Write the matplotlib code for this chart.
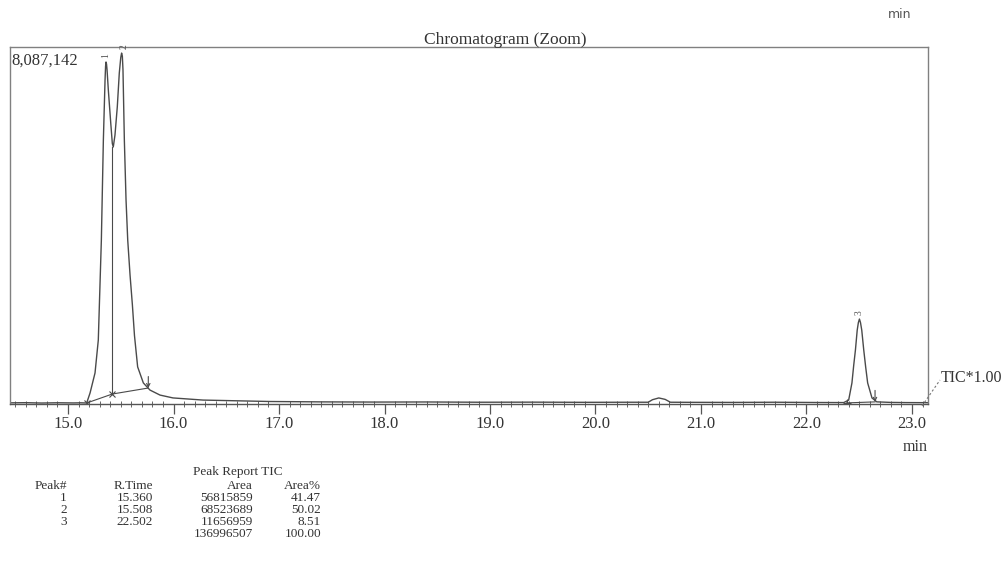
import matplotlib
matplotlib.use("Agg")
import matplotlib.pyplot as plt
from matplotlib.lines import Line2D
from matplotlib.ticker import MultipleLocator, FormatStrFormatter

plt.rcParams["font.family"] = ["Liberation Serif", "DejaVu Serif"]

# TIC trace (retention time in min, intensity in counts)
rt = [14.45, 14.60, 14.75, 14.90, 15.05, 15.12, 15.177, 15.209, 15.256, 15.287,
      15.316, 15.335, 15.351, 15.356, 15.360, 15.365, 15.370, 15.382, 15.405, 15.420,
      15.429, 15.445, 15.467, 15.486, 15.500, 15.508, 15.515, 15.521, 15.534, 15.550,
      15.566, 15.588, 15.610, 15.630, 15.660, 15.714, 15.777, 15.872, 15.995, 16.280,
      16.915, 17.40, 17.90, 18.40, 18.90, 19.40, 19.90, 20.30, 20.50, 20.54,
      20.60, 20.66, 20.71, 20.90, 21.30, 21.70, 22.10, 22.353, 22.400, 22.431,
      22.448, 22.464, 22.481, 22.492, 22.502, 22.512, 22.524, 22.543, 22.561, 22.580,
      22.621, 22.666, 22.80, 22.95, 23.15]
intensity = [26000, 30000, 22000, 28000, 24000, 27000, 22600, 250700, 703600, 1447600,
             3712000, 5976400, 7343100, 7650000, 7747500, 7700000, 7569600, 7116700, 6364600, 5900000,
             5822700, 6089600, 6728500, 7496800, 7850000, 7949700, 7880000, 7569600, 5976400, 4617800,
             3712000, 2919500, 2250000, 1550000, 841100, 477100, 315400, 202200, 137500, 89000,
             56600, 48000, 44000, 46000, 40000, 42000, 38000, 40000, 40000, 97000,
             137000, 105000, 40000, 38000, 36000, 40000, 34000, 32300, 89000, 477100,
             881500, 1221200, 1674000, 1845000, 1924700, 1845000, 1674000, 1221200, 841100, 477100,
             137500, 48500, 36000, 32000, 30000]

# peak report
peak_no = ["1", "2", "3", ""]
ret_time = ["15.360", "15.508", "22.502", ""]
area = ["56815859", "68523689", "11656959", "136996507"]
area_pct = ["41.47", "50.02", "8.51", "100.00"]

# integration baselines (start, drop/end)
base1_t = [15.177, 15.420, 15.761]
base1_y = [22600, 226000, 362000]
base3_t = [22.380, 22.650]
base3_y = [25000, 48000]

Y_MAX = 8087142
W, H = 1005, 564


def fx(x):
    return x / W


def fy(y):
    return 1 - y / H


fig = plt.figure(figsize=(W / 100, H / 100), dpi=100)
ax = fig.add_axes([fx(10), fy(404), fx(928) - fx(10), fy(47) - fy(404)])

line_c = "#4a4a4a"
ax.plot(rt, intensity, color=line_c, linewidth=1.0)

# integration marks
ax.plot(base1_t, base1_y, color=line_c, linewidth=0.8)
ax.plot([base1_t[1], base1_t[1]], [base1_y[1], 5822700], color=line_c, linewidth=0.8)
ax.plot(base1_t[:2], base1_y[:2], linestyle="none", marker="x", markersize=4,
        color=line_c, markeredgewidth=0.8)
ax.plot(base3_t, base3_y, color=line_c, linewidth=0.8)
ax.plot(base3_t[:1], base3_y[:1], linestyle="none", marker="+", markersize=6,
        color=line_c, markeredgewidth=0.8)
for t, y in [(base1_t[2], base1_y[2]), (base3_t[1], base3_y[1])]:
    ax.annotate("", xy=(t, y), xytext=(t, y + 260000),
                arrowprops=dict(arrowstyle="->", color=line_c, lw=0.8,
                                shrinkA=0, shrinkB=0, mutation_scale=6))

# rotated peak labels
for t, y, lab in [(15.360, 7747500, "1"), (15.535, 7949700, "2"), (22.502, 1924700, "3")]:
    ax.text(t, y + 100000, lab, rotation=90, fontsize=7, ha="center", va="bottom", color="#555")

ax.set_xlim(14.45, 23.152)
ax.set_ylim(0, Y_MAX)
ax.xaxis.set_major_locator(MultipleLocator(1.0))
ax.xaxis.set_minor_locator(MultipleLocator(0.1))
ax.xaxis.set_major_formatter(FormatStrFormatter("%.1f"))
ax.set_yticks([])
ax.tick_params(axis="x", which="major", direction="out", length=7, width=0.9,
               color="#555", labelsize=12, labelcolor="#333", pad=2)
ax.tick_params(axis="x", which="minor", direction="inout", length=5, width=0.7, color="#666")
for s in ax.spines.values():
    s.set_color("#808080")
    s.set_linewidth(1.0)
ax.spines["bottom"].set_color("#555")

ax.text(0.002, 0.985, "8,087,142", transform=ax.transAxes, ha="left", va="top",
        fontsize=12, color="#333")

fig.text(fx(505), fy(40), "Chromatogram (Zoom)", ha="center", va="center", fontsize=12.5, color="#333")
fig.text(fx(900), fy(14), "min", ha="center", va="center", fontsize=9, color="#555",
         family=["DejaVu Sans"])
fig.text(fx(915), fy(447), "min", ha="center", va="center", fontsize=11.5, color="#333")

# dashed leader to TIC label
fig.add_artist(Line2D([fx(922), fx(940)], [fy(406), fy(380)], transform=fig.transFigure,
                      color="#777", linewidth=0.8, linestyle=(0, (2, 2))))
fig.text(fx(941), fy(378), "TIC*1.00", ha="left", va="center", fontsize=11.5, color="#333")

# peak report table
tfs = 9.5
tc = "#333"
fig.text(fx(238), fy(472), "Peak Report TIC", ha="center", va="center", fontsize=tfs, color=tc)
heads = ["Peak#", "R.Time", "Area", "Area%"]
cols_x = [67, 153, 253, 321]
for h, x in zip(heads, cols_x):
    fig.text(fx(x), fy(486), h, ha="right", va="center", fontsize=tfs, color=tc)
for i in range(len(area)):
    y = 498 + 12 * i
    for vals, x in zip([peak_no, ret_time, area, area_pct], cols_x):
        fig.text(fx(x), fy(y), vals[i], ha="right", va="center", fontsize=tfs, color=tc)

fig.savefig("out.png", dpi=100)
